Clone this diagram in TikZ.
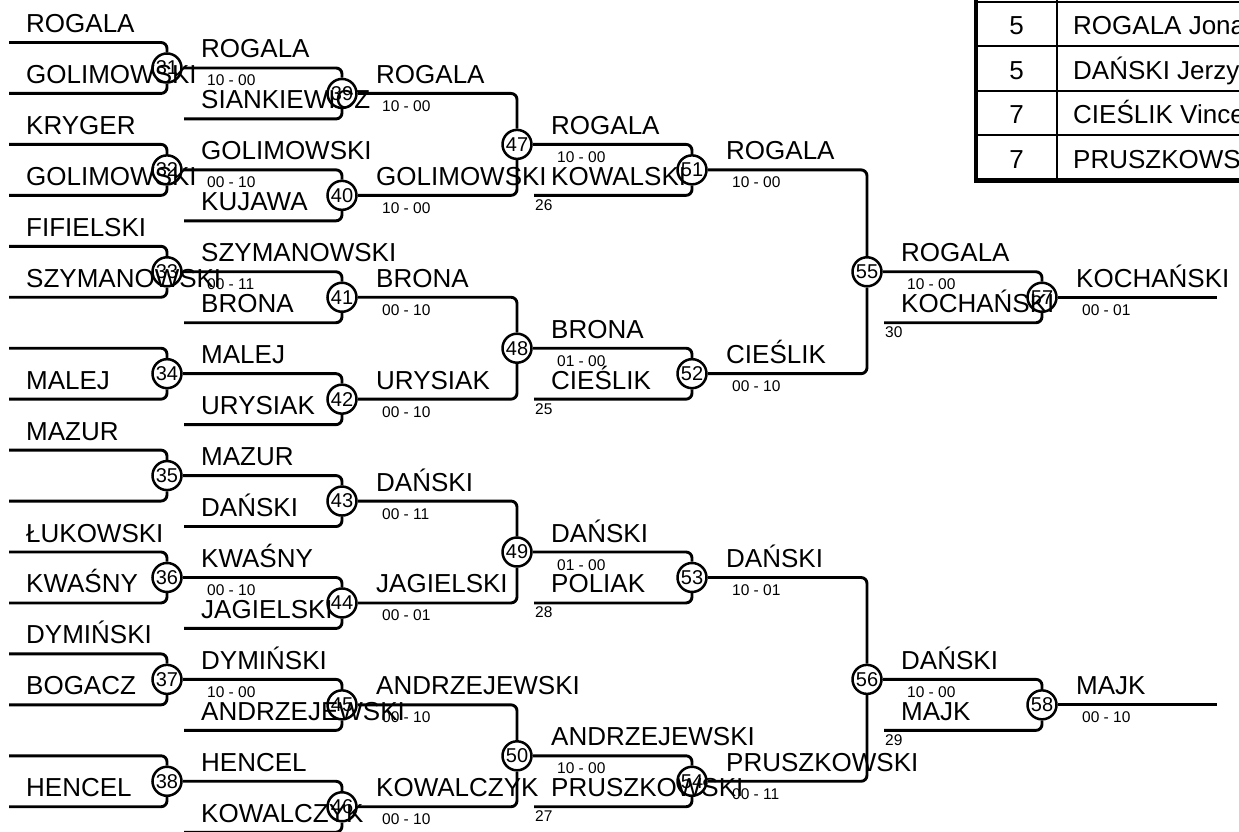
\documentclass[tikz,border=0pt]{standalone}
\usepackage{fontspec}
\setmainfont{Liberation Sans}
\newcommand\ypos[1]{42.5+25.475*#1}
\tikzset{
  ln/.style={line width=2.9pt, rounded corners=6pt},
  circ/.style={circle, draw, line width=2.5pt, minimum size=29pt, inner sep=0pt, font=\fontsize{20}{20}\selectfont},
  nm/.style={anchor=base west, inner sep=0pt, yshift=10pt, font=\fontsize{26}{26}\selectfont},
  sc/.style={anchor=base west, inner sep=0pt, yshift=-18pt, font=\fontsize{15.5}{15.5}\selectfont},
  sd/.style={anchor=base west, inner sep=0pt, yshift=-15pt, font=\fontsize{15.5}{15.5}\selectfont},
  tb/.style={inner sep=0pt, font=\fontsize{26}{26}\selectfont},
  thin/.style={line width=2pt},
  thick4/.style={line width=4.5pt},
}
\begin{document}
\begin{tikzpicture}[x=1pt,y=-1pt]
\useasboundingbox (0,0) rectangle (1239,832);
\clip (0,0) rectangle (1239,832);

% circles
\foreach \c/\x/\n in {31/167/1,32/167/5,33/167/9,34/167/13,35/167/17,36/167/21,37/167/25,38/167/29,
  39/342/2,40/342/6,41/342/10,42/342/14,43/342/18,44/342/22,45/342/26,46/342/30,
  47/517/4,48/517/12,49/517/20,50/517/28,
  51/692/5,52/692/13,53/692/21,54/692/29,
  55/867/9,56/867/25,
  57/1042/10,58/1042/26}
  {\node[circ] (c\c) at (\x,{\ypos{\n}}) {\c};}

% round 1 lines
\foreach \c/\n in {31/1,32/5,33/9,34/13,35/17,36/21,37/25,38/29} {
  \pgfmathsetmacro\na{\n-1}
  \pgfmathsetmacro\nb{\n+1}
  \coordinate (a\c) at (9,{\ypos{\na}});
  \coordinate (b\c) at (9,{\ypos{\nb}});
  \draw[ln] (a\c) -| (c\c.north);
  \draw[ln] (b\c) -| (c\c.south);
}
% round 2 lines
\foreach \p/\c/\n in {31/39/3,32/40/7,33/41/11,34/42/15,35/43/19,36/44/23,37/45/27,38/46/31} {
  \coordinate (f\c) at (184,{\ypos{\n}});
  \draw[ln] (c\p.east) -| (c\c.north);
  \draw[ln] (f\c) -| (c\c.south);
}
% round 3 lines
\foreach \a/\b/\c in {39/40/47,41/42/48,43/44/49,45/46/50} {
  \draw[ln] (c\a.east) -| (c\c.north);
  \draw[ln] (c\b.east) -| (c\c.south);
}
% round 4 lines
\foreach \p/\c/\n in {47/51/6,48/52/14,49/53/22,50/54/30} {
  \coordinate (f\c) at (534,{\ypos{\n}});
  \draw[ln] (c\p.east) -| (c\c.north);
  \draw[ln] (f\c) -| (c\c.south);
}
% round 5 lines
\foreach \a/\b/\c in {51/52/55,53/54/56} {
  \draw[ln] (c\a.east) -| (c\c.north);
  \draw[ln] (c\b.east) -| (c\c.south);
}
% round 6 lines
\foreach \p/\c/\n in {55/57/11,56/58/27} {
  \coordinate (f\c) at (884,{\ypos{\n}});
  \draw[ln] (c\p.east) -| (c\c.north);
  \draw[ln] (f\c) -| (c\c.south);
}
% final lines
\coordinate (e57) at (1217,{\ypos{10}});
\coordinate (e58) at (1217,{\ypos{26}});
\draw[ln] (c57.east) -- (e57);
\draw[ln] (c58.east) -- (e58);

% names
\foreach \x/\n/\t [count=\i] in {
  26/0/ROGALA, 26/2/GOLIMOWSKI, 26/4/KRYGER, 26/6/GOLIMOWSKI, 26/8/FIFIELSKI, 26/10/SZYMANOWSKI,
  26/14/MALEJ, 26/16/MAZUR, 26/20/ŁUKOWSKI, 26/22/KWAŚNY, 26/24/DYMIŃSKI, 26/26/BOGACZ, 26/30/HENCEL,
  201/1/ROGALA, 201/3/SIANKIEWICZ, 201/5/GOLIMOWSKI, 201/7/KUJAWA, 201/9/SZYMANOWSKI, 201/11/BRONA,
  201/13/MALEJ, 201/15/URYSIAK, 201/17/MAZUR, 201/19/DAŃSKI, 201/21/KWAŚNY, 201/23/JAGIELSKI,
  201/25/DYMIŃSKI, 201/27/ANDRZEJEWSKI, 201/29/HENCEL, 201/31/KOWALCZYK,
  376/2/ROGALA, 376/6/GOLIMOWSKI, 376/10/BRONA, 376/14/URYSIAK, 376/18/DAŃSKI, 376/22/JAGIELSKI,
  376/26/ANDRZEJEWSKI, 376/30/KOWALCZYK,
  551/4/ROGALA, 551/6/KOWALSKI, 551/12/BRONA, 551/14/CIEŚLIK, 551/20/DAŃSKI, 551/22/POLIAK,
  551/28/ANDRZEJEWSKI, 551/30/PRUSZKOWSKI,
  726/5/ROGALA, 726/13/CIEŚLIK, 726/21/DAŃSKI, 726/29/PRUSZKOWSKI,
  901/9/ROGALA, 901/11/KOCHAŃSKI, 901/25/DAŃSKI, 901/27/MAJK,
  1076/10/KOCHAŃSKI, 1076/26/MAJK}
  {\node[nm] (name\i) at (\x,{\ypos{\n}}) {\t};}

% scores
\foreach \x/\n/\t [count=\i] in {
  207/1/10 - 00, 207/5/00 - 10, 207/9/00 - 11, 207/21/00 - 10, 207/25/10 - 00,
  382/2/10 - 00, 382/6/10 - 00, 382/10/00 - 10, 382/14/00 - 10, 382/18/00 - 11, 382/22/00 - 01,
  382/26/00 - 10, 382/30/00 - 10,
  557/4/10 - 00, 557/12/01 - 00, 557/20/01 - 00, 557/28/10 - 00,
  732/5/10 - 00, 732/13/00 - 10, 732/21/10 - 01, 732/29/00 - 11,
  907/9/10 - 00, 907/25/10 - 00,
  1082/10/00 - 01, 1082/26/00 - 10}
  {\node[sc] (score\i) at (\x,{\ypos{\n}}) {\t};}

% seeds
\foreach \x/\n/\t [count=\i] in {535/6/26, 535/14/25, 535/22/28, 535/30/27, 885/11/30, 885/27/29}
  {\node[sd] (seed\i) at (\x,{\ypos{\n}}) {\t};}

% table
\draw[thin] (976,2) -- (1260,2);
\draw[thin] (976,46.5) -- (1260,46.5);
\draw[thin] (976,91) -- (1260,91);
\draw[thin] (976,135.5) -- (1260,135.5);
\draw[thin] (1057,-20) -- (1057,180.5);
\draw[thick4] (976,-20) rectangle (1270,180.5);
\foreach \yb/\p/\t [count=\i] in {35/5/ROGALA Jona, 79.5/5/DAŃSKI Jerzy, 124/7/CIEŚLIK Vince, 168.5/7/PRUSZKOWSKI} {
  \node[tb, anchor=base] (place\i) at (1016.5,\yb) {\p};
  \node[tb, anchor=base west] (player\i) at (1073,\yb) {\t};
}
\end{tikzpicture}
\end{document}
